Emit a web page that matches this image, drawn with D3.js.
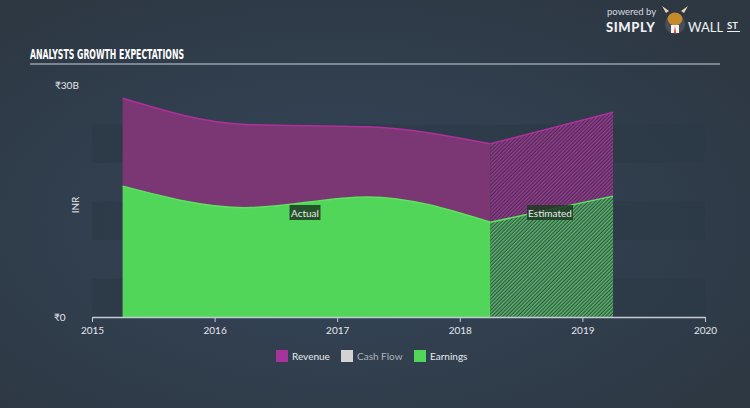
<!DOCTYPE html>
<html><head><meta charset="utf-8">
<script src="https://cdn.jsdelivr.net/npm/d3@7"></script>
<style>
html,body{margin:0;padding:0;background:#2f3b48;}
svg{display:block;}
</style></head>
<body>
<svg id="chart" width="750" height="408"></svg>
<script>
// ---- data ----
const years = [2015.25, 2016.25, 2017.25, 2018.25, 2019.25];
const revenue = [28.4, 25.0, 24.7, 22.5, 26.6];
const earnings = [17.0, 14.2, 15.6, 12.3, 15.7];
const actualCount = 4; // first 4 points actual, last is estimate (overlapping at index 3)
const xTicks = [2015, 2016, 2017, 2018, 2019, 2020];
const yTickLabels = ["₹0", "₹30B"];
const legendItems = ["Revenue", "Cash Flow", "Earnings"];

const svg = d3.select("#chart");
const W = 750, H = 408;
const defs = svg.append("defs");

const bg = defs.append("radialGradient").attr("id","bg").attr("cx","45%").attr("cy","55%").attr("r","65%");
bg.append("stop").attr("offset","0%").attr("stop-color","#35465b");
bg.append("stop").attr("offset","100%").attr("stop-color","#2d3843");
svg.append("rect").attr("width",W).attr("height",H).attr("fill","url(#bg)");

function hatch(id, base, stroke){
  const p = defs.append("pattern").attr("id",id).attr("patternUnits","userSpaceOnUse")
    .attr("width",2.6).attr("height",4).attr("patternTransform","rotate(45)");
  p.append("rect").attr("width",2.6).attr("height",4).attr("fill",base);
  p.append("line").attr("x1",0.7).attr("y1",0).attr("x2",0.7).attr("y2",4).attr("stroke",stroke).attr("stroke-width",1.3);
}
hatch("hRev", "#40325a", "#a8388f");
hatch("hEarn", "#3b4a5a", "#54c957");

const x = d3.scaleLinear().domain([2015, 2020]).range([92, 705]);
const y = d3.scaleLinear().domain([0, 30]).range([317, 86]);

// background bands
const bands = [[0,5],[10,15],[20,25]];
svg.append("g").selectAll("rect").data(bands).join("rect")
  .attr("x", x(2015)).attr("width", x(2020)-x(2015))
  .attr("y", d=>y(d[1])).attr("height", d=>y(d[0])-y(d[1]))
  .attr("fill","#2c3846").attr("opacity",0.6);

// title
svg.append("text").attr("x",30).attr("y",59)
  .attr("font-family","'DejaVu Sans Condensed','Liberation Sans Narrow',sans-serif")
  .attr("font-weight","bold").attr("font-size",14).attr("fill","#ffffff")
  .attr("textLength",154).attr("lengthAdjust","spacingAndGlyphs")
  .text("ANALYSTS GROWTH EXPECTATIONS");
svg.append("line").attr("x1",30).attr("x2",720).attr("y1",64).attr("y2",64)
  .attr("stroke","#c9d1db").attr("stroke-width",1.2);

// logo
const logo = svg.append("g");
logo.append("text").attr("x",607).attr("y",15).attr("font-family","Lato,sans-serif").attr("font-size",9.5).attr("fill","#d8dce2").text("powered by");
logo.append("text").attr("x",606).attr("y",32).attr("font-family","Lato,sans-serif").attr("font-weight","900").attr("font-size",13).attr("fill","#eef0f3").attr("letter-spacing",0.6).text("SIMPLY");
logo.append("circle").attr("cx",675).attr("cy",24).attr("r",10).attr("fill","#4a4f57");
logo.append("ellipse").attr("cx",675).attr("cy",19).attr("rx",7.5).attr("ry",6.5).attr("fill","#c48a2c");
logo.append("path").attr("d","M666,13 L662,6 L669,11 Z M684,13 L688,6 L681,11 Z").attr("fill","#e6d6b0");
logo.append("rect").attr("x",671).attr("y",25).attr("width",8).attr("height",8).attr("fill","#f4f4f4");
logo.append("path").attr("d","M675,26 L673.8,33 L676.2,33 Z").attr("fill","#d2542a");
logo.append("text").attr("x",688).attr("y",32).attr("font-family","Lato,sans-serif").attr("font-size",13).attr("fill","#eef0f3").text("WALL");
logo.append("text").attr("x",727).attr("y",29).attr("font-family","Lato,sans-serif").attr("font-weight","bold").attr("font-size",9.5).attr("fill","#eef0f3").text("ST");
logo.append("line").attr("x1",727).attr("x2",740).attr("y1",31.5).attr("y2",31.5).attr("stroke","#eef0f3").attr("stroke-width",1);

// areas
const pts = (arr) => years.map((yr,i)=>({x:yr, v:arr[i]}));
const revPts = pts(revenue), earnPts = pts(earnings);
const actual = a => a.slice(0, actualCount);
const est = a => a.slice(actualCount-1);

const areaM = d3.area().x(d=>x(d.x)).y0(y(0)).y1(d=>y(d.v)).curve(d3.curveMonotoneX);
const lineM = d3.line().x(d=>x(d.x)).y(d=>y(d.v)).curve(d3.curveMonotoneX);
const areaL = d3.area().x(d=>x(d.x)).y0(y(0)).y1(d=>y(d.v));
const lineL = d3.line().x(d=>x(d.x)).y(d=>y(d.v));

svg.append("path").attr("d",areaM(actual(revPts))).attr("fill","#7a3773");
svg.append("path").attr("d",areaL(est(revPts))).attr("fill","url(#hRev)");
svg.append("path").attr("d",lineM(actual(revPts))).attr("fill","none").attr("stroke","#b0309b").attr("stroke-width",1.5);
svg.append("path").attr("d",lineL(est(revPts))).attr("fill","none").attr("stroke","#b0309b").attr("stroke-width",1.5);

svg.append("path").attr("d",areaM(actual(earnPts))).attr("fill","#52d65a");
svg.append("path").attr("d",areaL(est(earnPts))).attr("fill","url(#hEarn)");
svg.append("path").attr("d",lineM(actual(earnPts))).attr("fill","none").attr("stroke","#5ee35f").attr("stroke-width",1.5);
svg.append("path").attr("d",lineL(est(earnPts))).attr("fill","none").attr("stroke","#5ee35f").attr("stroke-width",1.5);

// labels Actual / Estimated
function tag(cx, cy, txt, w){
  const g = svg.append("g");
  g.append("rect").attr("x",cx-w/2).attr("y",cy-8).attr("width",w).attr("height",15).attr("fill","#1f3b23").attr("opacity",0.85);
  g.append("text").attr("x",cx).attr("y",cy+3.5).attr("text-anchor","middle")
    .attr("font-family","Lato,sans-serif").attr("font-size",10).attr("fill","#e8ece8").text(txt);
}
tag(305, 213, "Actual", 31);
tag(550, 213, "Estimated", 46);

// x axis
const xAxis = d3.axisBottom(x).tickValues(xTicks).tickFormat(d3.format("d")).tickSize(5).tickSizeOuter(0);
const gx = svg.append("g").attr("transform",`translate(0,${y(0)})`).call(xAxis);
gx.select(".domain").attr("stroke","#c4cbd4").attr("stroke-width",1.3);
gx.selectAll(".tick line").attr("stroke","#c4cbd4");
gx.selectAll(".tick text").attr("fill","#e4e7ea").attr("font-family","Lato,sans-serif").attr("font-size",10).attr("dy","0.9em");

// y labels
svg.append("text").attr("x",54).attr("y",y(0)+4).attr("font-family","Lato,sans-serif").attr("font-size",10).attr("fill","#e4e7ea").text(yTickLabels[0]);
svg.append("text").attr("x",55).attr("y",y(30)+3).attr("font-family","Lato,sans-serif").attr("font-size",10).attr("fill","#e4e7ea").text(yTickLabels[1]);
svg.append("text").attr("transform","translate(79,205) rotate(-90)").attr("text-anchor","middle")
  .attr("font-family","Lato,sans-serif").attr("font-size",10).attr("fill","#e4e7ea").text("INR");

// legend
const legColors = ["#a7349b","#d3d3d3","#52d65a"];
const legX = [276, 341, 414];
const lg = svg.append("g");
legendItems.forEach((t,i)=>{
  lg.append("rect").attr("x",legX[i]).attr("y",350).attr("width",12).attr("height",12).attr("fill",legColors[i]);
  lg.append("text").attr("x",legX[i]+16).attr("y",360).attr("font-family","Lato,sans-serif").attr("font-size",10)
    .attr("fill", i===1 ? "#aeb4bb" : "#e8ebee").text(t);
});
</script>
</body></html>
